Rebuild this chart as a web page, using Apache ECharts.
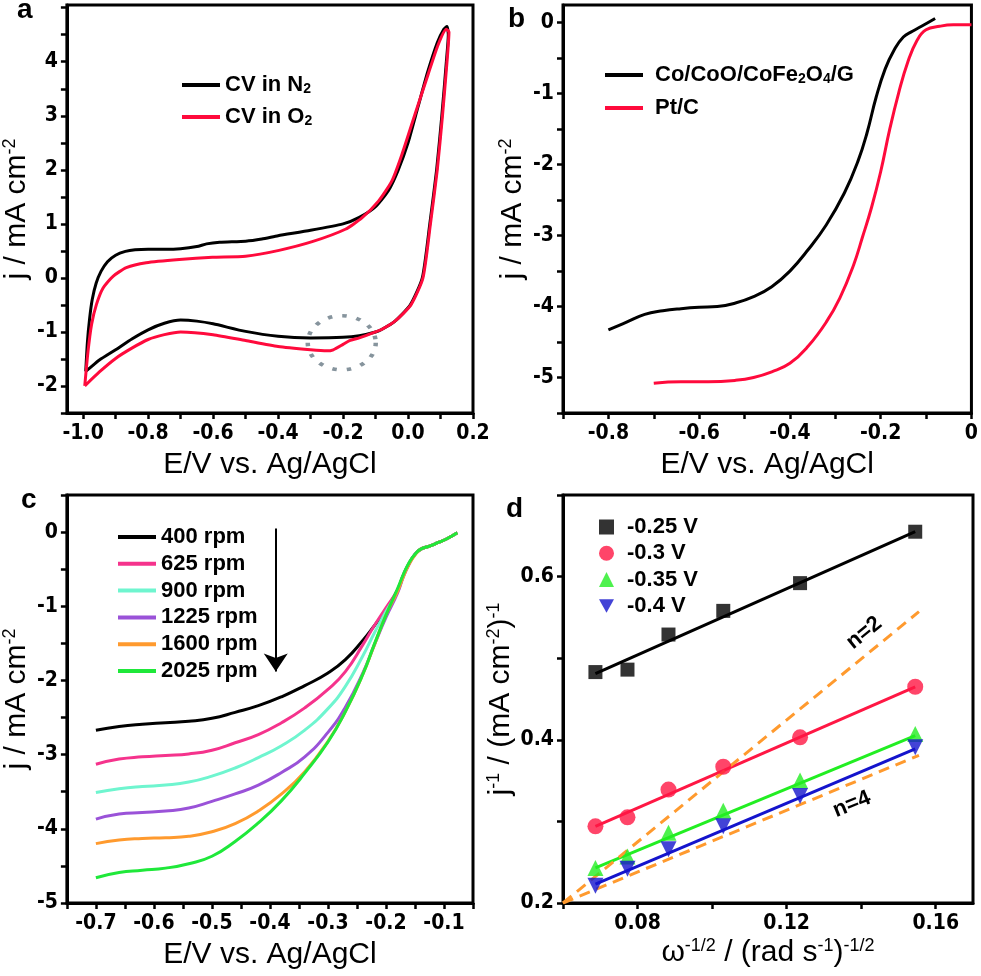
<!DOCTYPE html>
<html>
<head>
<meta charset="utf-8">
<script src="https://cdn.jsdelivr.net/npm/echarts@6/dist/echarts.min.js"></script>
<style>
  html, body { margin: 0; padding: 0; background: #fff; }
  #main { width: 981px; height: 976px; }
</style>
</head>
<body>
<div id="main"></div>
<script>
// ---- panel a: CV loops (E, j) ----
var cvN2 = [[-0.992,-1.73],[-0.987,-1.2],[-0.98,-0.75],[-0.972,-0.4],[-0.96,-0.1],[-0.945,0.12],[-0.925,0.3],[-0.9,0.42],[-0.87,0.49],
  [-0.84,0.52],[-0.8,0.53],[-0.75,0.53],[-0.7,0.54],[-0.65,0.58],[-0.62,0.63],[-0.58,0.66],[-0.5,0.68],[-0.45,0.72],[-0.4,0.78],
  [-0.3,0.88],[-0.2,1.0],[-0.15,1.12],[-0.1,1.32],[-0.06,1.62],[-0.03,2.0],[0.0,2.5],[0.03,3.15],[0.06,3.8],[0.09,4.35],[0.11,4.6],
  [0.12,4.65],[0.124,4.5],[0.118,4.0],[0.104,3.0],[0.088,2.0],[0.067,1.0],[0.044,0.0],[0.007,-0.5],[-0.04,-0.8],[-0.08,-0.95],
  [-0.1,-1.0],[-0.15,-1.07],[-0.2,-1.1],[-0.3,-1.11],[-0.4,-1.08],[-0.5,-0.99],[-0.6,-0.85],[-0.65,-0.8],[-0.7,-0.78],[-0.75,-0.84],
  [-0.8,-0.96],[-0.85,-1.13],[-0.9,-1.33],[-0.95,-1.52],[-0.98,-1.67],[-0.992,-1.73]];
var cvO2 = [[-0.995,-2.0],[-0.985,-1.36],[-0.974,-0.86],[-0.959,-0.49],[-0.939,-0.19],[-0.908,0.03],[-0.867,0.19],[-0.806,0.28],
  [-0.704,0.34],[-0.602,0.38],[-0.5,0.4],[-0.397,0.51],[-0.295,0.67],[-0.193,0.9],[-0.142,1.11],[-0.091,1.42],[-0.05,1.79],
  [-0.019,2.28],[0.021,3.02],[0.062,3.77],[0.093,4.32],[0.118,4.6],[0.126,4.55],[0.12,4.0],[0.106,3.0],[0.09,2.0],[0.069,1.0],
  [0.046,0.0],[0.009,-0.5],[-0.04,-0.8],[-0.08,-0.95],[-0.1,-1.0],[-0.15,-1.11],[-0.18,-1.16],[-0.2,-1.23],[-0.23,-1.33],
  [-0.25,-1.35],[-0.3,-1.33],[-0.4,-1.27],[-0.5,-1.16],[-0.6,-1.05],[-0.7,-1.0],[-0.75,-1.05],[-0.8,-1.14],[-0.85,-1.3],
  [-0.9,-1.49],[-0.95,-1.74],[-0.995,-2.0]];
var circleMark = [[-0.204, -1.2]];

// ---- panel b: LSV ----
var lsvCat = [[-0.8,-4.33],[-0.76,-4.22],[-0.72,-4.11],[-0.68,-4.06],[-0.64,-4.03],[-0.6,-4.01],[-0.56,-4.0],[-0.52,-3.95],
  [-0.48,-3.86],[-0.44,-3.72],[-0.4,-3.5],[-0.36,-3.2],[-0.32,-2.85],[-0.28,-2.4],[-0.25,-1.95],[-0.23,-1.55],[-0.21,-1.05],
  [-0.19,-0.65],[-0.17,-0.38],[-0.15,-0.2],[-0.13,-0.12],[-0.11,-0.05],[-0.08,0.06]];
var lsvPt = [[-0.7,-5.08],[-0.64,-5.06],[-0.58,-5.06],[-0.52,-5.04],[-0.48,-5.0],[-0.44,-4.92],[-0.4,-4.8],[-0.36,-4.56],
  [-0.32,-4.22],[-0.29,-3.88],[-0.26,-3.42],[-0.24,-3.02],[-0.22,-2.6],[-0.2,-2.1],[-0.18,-1.5],[-0.16,-0.98],[-0.14,-0.55],
  [-0.12,-0.25],[-0.1,-0.1],[-0.07,-0.05],[-0.04,-0.03],[0,-0.03]];

// ---- panel c: RDE curves at several rotation rates ----
var rpm400 = [[-0.7,-2.67],[-0.66,-2.62],[-0.62,-2.59],[-0.58,-2.57],[-0.54,-2.55],[-0.5,-2.51],[-0.46,-2.43],[-0.42,-2.34],
  [-0.38,-2.22],[-0.34,-2.07],[-0.3,-1.9],[-0.27,-1.72],[-0.24,-1.46],[-0.22,-1.26],[-0.2,-1.05],[-0.18,-0.78],[-0.17,-0.58],
  [-0.16,-0.42],[-0.15,-0.3],[-0.14,-0.23],[-0.125,-0.19],[-0.11,-0.14],[-0.095,-0.09],[-0.077,-0.01]];
var rpm625 = [[-0.7,-3.13],[-0.66,-3.06],[-0.62,-3.03],[-0.58,-3.01],[-0.54,-2.99],[-0.5,-2.94],[-0.46,-2.84],[-0.42,-2.73],
  [-0.38,-2.57],[-0.34,-2.37],[-0.3,-2.12],[-0.27,-1.88],[-0.24,-1.52],[-0.22,-1.26],[-0.2,-1.02],[-0.18,-0.78],[-0.17,-0.58],
  [-0.16,-0.42],[-0.15,-0.3],[-0.14,-0.23],[-0.125,-0.19],[-0.11,-0.14],[-0.095,-0.09],[-0.077,-0.01]];
var rpm900 = [[-0.7,-3.51],[-0.66,-3.46],[-0.62,-3.43],[-0.58,-3.41],[-0.54,-3.37],[-0.5,-3.29],[-0.46,-3.18],[-0.42,-3.04],
  [-0.38,-2.88],[-0.34,-2.67],[-0.3,-2.38],[-0.27,-2.08],[-0.24,-1.67],[-0.22,-1.36],[-0.2,-1.07],[-0.18,-0.8],[-0.17,-0.59],
  [-0.16,-0.42],[-0.15,-0.3],[-0.14,-0.23],[-0.125,-0.19],[-0.11,-0.14],[-0.095,-0.09],[-0.077,-0.01]];
var rpm1225 = [[-0.7,-3.87],[-0.66,-3.8],[-0.62,-3.78],[-0.58,-3.76],[-0.54,-3.72],[-0.5,-3.63],[-0.46,-3.53],[-0.42,-3.41],
  [-0.38,-3.24],[-0.34,-3.03],[-0.3,-2.7],[-0.27,-2.36],[-0.24,-1.9],[-0.22,-1.52],[-0.2,-1.15],[-0.18,-0.82],[-0.17,-0.6],
  [-0.16,-0.43],[-0.15,-0.3],[-0.14,-0.23],[-0.125,-0.19],[-0.11,-0.14],[-0.095,-0.09],[-0.077,-0.01]];
var rpm1600 = [[-0.7,-4.2],[-0.66,-4.15],[-0.62,-4.13],[-0.58,-4.12],[-0.54,-4.1],[-0.5,-4.04],[-0.46,-3.93],[-0.42,-3.76],
  [-0.38,-3.53],[-0.34,-3.23],[-0.3,-2.82],[-0.27,-2.42],[-0.24,-1.92],[-0.22,-1.52],[-0.2,-1.12],[-0.18,-0.8],[-0.17,-0.6],
  [-0.16,-0.43],[-0.15,-0.31],[-0.14,-0.23],[-0.125,-0.19],[-0.11,-0.14],[-0.095,-0.09],[-0.077,-0.01]];
var rpm2025 = [[-0.7,-4.66],[-0.66,-4.59],[-0.62,-4.56],[-0.58,-4.53],[-0.54,-4.47],[-0.5,-4.37],[-0.46,-4.17],[-0.42,-3.92],
  [-0.38,-3.62],[-0.34,-3.25],[-0.3,-2.83],[-0.27,-2.42],[-0.24,-1.92],[-0.22,-1.51],[-0.2,-1.12],[-0.18,-0.76],[-0.17,-0.57],
  [-0.16,-0.41],[-0.15,-0.3],[-0.14,-0.23],[-0.125,-0.19],[-0.11,-0.14],[-0.095,-0.09],[-0.077,-0.01]];
var rpmArrow = [[-0.39, 0.05], [-0.39, -1.88]];

// ---- panel d: Koutecky-Levich ----
var klX = [0.0687, 0.0773, 0.0883, 0.1030, 0.1236, 0.1545];
var kl025 = [0.483, 0.486, 0.529, 0.558, 0.592, 0.655];
var kl030 = [0.294, 0.305, 0.339, 0.367, 0.403, 0.465];
var kl035 = [0.243, 0.257, 0.286, 0.313, 0.350, 0.407];
var kl040 = [0.221, 0.242, 0.266, 0.294, 0.331, 0.391];
var fit025 = [[0.0687, 0.481], [0.1545, 0.655]];
var fit030 = [[0.0687, 0.294], [0.1545, 0.465]];
var fit035 = [[0.0687, 0.243], [0.1545, 0.405]];
var fit040 = [[0.0687, 0.223], [0.1545, 0.389]];
var theoN2 = [[0.06, 0.2], [0.1555, 0.557]];
var theoN4 = [[0.06, 0.2], [0.1555, 0.381]];

// ---- ticks / labels ----
var aTicksX = [-1.0,-0.9,-0.8,-0.7,-0.6,-0.5,-0.4,-0.3,-0.2,-0.1,0,0.1,0.2];
var aLabelsX = [-1.0,-0.8,-0.6,-0.4,-0.2,0,0.2];
var aTicksY = [-2.5,-2,-1.5,-1,-0.5,0,0.5,1,1.5,2,2.5,3,3.5,4,4.5,5];
var aLabelsY = [-2,-1,0,1,2,3,4];
var bTicksX = [-0.9,-0.8,-0.7,-0.6,-0.5,-0.4,-0.3,-0.2,-0.1,0];
var bLabelsX = [-0.8,-0.6,-0.4,-0.2,0];
var bTicksY = [-5.5,-5,-4.5,-4,-3.5,-3,-2.5,-2,-1.5,-1,-0.5,0];
var bLabelsY = [-5,-4,-3,-2,-1,0];
var cTicksX = [-0.75,-0.7,-0.65,-0.6,-0.55,-0.5,-0.45,-0.4,-0.35,-0.3,-0.25,-0.2,-0.15,-0.1,-0.05];
var cLabelsX = [-0.7,-0.6,-0.5,-0.4,-0.3,-0.2,-0.1];
var cTicksY = [-5,-4.5,-4,-3.5,-3,-2.5,-2,-1.5,-1,-0.5,0,0.5];
var cLabelsY = [-5,-4,-3,-2,-1,0];
var dTicksX = [0.06,0.08,0.1,0.12,0.14,0.16];
var dLabelsX = [0.08,0.12,0.16];
var dTicksY = [0.2,0.3,0.4,0.5,0.6,0.7];
var dLabelsY = [0.2,0.4,0.6];

var tickFont = "'Liberation Sans Narrow', 'Arial Narrow', 'DejaVu Sans Condensed', sans-serif";
var textFont = "'Liberation Sans', Arial, sans-serif";

var chart = echarts.init(document.getElementById('main'), null, {renderer: 'canvas'});

var grids = [
  {left: 63, top: 5, width: 410, height: 408},
  {left: 563, top: 5, width: 410, height: 408},
  {left: 63, top: 495, width: 410, height: 408},
  {left: 563, top: 495, width: 410, height: 408}
];
grids.forEach(function (g) {
  g.show = true;
  g.borderColor = '#000';
  g.borderWidth = 3;
  g.backgroundColor = 'transparent';
  g.containLabel = false;
});

var nameRich = {
  sup: {fontSize: 18, lineHeight: 18, verticalAlign: 'top', fontFamily: textFont, color: '#000'}
};

function axis(gi, dim, min, max, ticks, labels, fmt, name, gap) {
  return {
    type: 'value', gridIndex: gi, min: min, max: max,
    position: dim === 'x' ? 'bottom' : 'left',
    name: name, nameLocation: 'middle', nameGap: gap,
    nameTextStyle: {fontFamily: textFont, fontSize: 30, lineHeight: 32, color: '#000', rich: nameRich},
    axisLine: {show: true, onZero: false, lineStyle: {color: '#000', width: 3}},
    axisTick: {show: true, length: 6, customValues: ticks, lineStyle: {color: '#000', width: 2.5}},
    axisLabel: {show: true, customValues: labels, formatter: fmt, margin: dim === 'x' ? 10 : 9,
      fontFamily: tickFont, fontWeight: 'bold', fontSize: 21, color: '#000'},
    splitLine: {show: false}
  };
}

function f1(v) { return v.toFixed(1); }
function f2(v) { return v.toFixed(2); }
function fi(v) { return String(Math.round(v)); }
function fb(v) { return Math.abs(v) < 1e-9 ? '0' : v.toFixed(1); }

var xAxes = [
  axis(0, 'x', -1.05, 0.2, aTicksX, aLabelsX, f1, 'E/V vs. Ag/AgCl', 36),
  axis(1, 'x', -0.9, 0, bTicksX, bLabelsX, fb, 'E/V vs. Ag/AgCl', 36),
  axis(2, 'x', -0.75, -0.05, cTicksX, cLabelsX, f1, 'E/V vs. Ag/AgCl', 36),
  axis(3, 'x', 0.06, 0.17, dTicksX, dLabelsX, f2, 'ω{sup|-1/2} / (rad s{sup|-1}){sup|-1/2}', 34)
];
var yAxes = [
  axis(0, 'y', -2.5, 5.05, aTicksY, aLabelsY, fi, 'j / mA cm{sup|-2}', 27),
  axis(1, 'y', -5.5, 0.25, bTicksY, bLabelsY, fi, 'j / mA cm{sup|-2}', 29),
  axis(2, 'y', -5, 0.5, cTicksY, cLabelsY, fi, 'j / mA cm{sup|-2}', 29),
  axis(3, 'y', 0.2, 0.7, dTicksY, dLabelsY, f1, 'j{sup|-1} / (mA cm{sup|-2}){sup|-1}', 38)
];

function curve(name, gi, data, color, smooth) {
  return {
    name: name, type: 'line', xAxisIndex: gi, yAxisIndex: gi, data: data,
    symbol: 'none', showSymbol: false, smooth: smooth, silent: true,
    lineStyle: {color: color, width: 3}, itemStyle: {color: color}
  };
}
function points(name, xs, ys, color, symbol, size) {
  return {
    name: name, type: 'scatter', xAxisIndex: 3, yAxisIndex: 3, silent: true, z: 5,
    data: xs.map(function (x, i) { return [x, ys[i]]; }),
    symbol: symbol, symbolSize: size, itemStyle: {color: color}
  };
}
function dashed(name, data) {
  return {
    name: name, type: 'line', xAxisIndex: 3, yAxisIndex: 3, data: data, symbol: 'none', silent: true, z: 4,
    lineStyle: {color: '#ff9a2e', width: 3, type: [11, 7]}
  };
}

var subFmt = function (n) { return n.replace(/([A-Za-z])(\d)/g, '$1{sub|$2}'); };
var legendText = {
  fontFamily: textFont, fontWeight: 'bold', fontSize: 22, lineHeight: 22, color: '#000',
  rich: {sub: {fontFamily: textFont, fontWeight: 'bold', fontSize: 14, lineHeight: 14, verticalAlign: 'bottom', color: '#000'}}
};
function legend(names, left, top, gap, extra) {
  var l = {
    data: names, left: left, top: top, orient: 'vertical', itemGap: gap, selectedMode: false,
    itemWidth: 38, itemHeight: 4, icon: 'rect', textStyle: legendText, formatter: subFmt
  };
  for (var k in extra) l[k] = extra[k];
  return l;
}

chart.setOption({
  animation: false,
  backgroundColor: '#fff',
  grid: grids,
  xAxis: xAxes,
  yAxis: yAxes,
  legend: [
    legend(['CV in N2', 'CV in O2'], 177, 69, 10, {}),
    legend(['Co/CoO/CoFe2O4/G', 'Pt/C'], 600, 59, 11, {textStyle: Object.assign({}, legendText, {padding: [0, 0, 0, 7]})}),
    legend(['400 rpm', '625 rpm', '900 rpm', '1225 rpm', '1600 rpm', '2025 rpm'], 113, 521, 4.8, {}),
    legend(['-0.25 V', '-0.3 V', '-0.35 V', '-0.4 V'], 594, 511, 4.3,
      {icon: null, itemWidth: 15, itemHeight: 15, textStyle: Object.assign({}, legendText, {padding: [0, 0, 0, 8]})})
  ],
  series: [
    curve('CV in N2', 0, cvN2, '#000', 0.2),
    curve('CV in O2', 0, cvO2, '#ff0a3c', 0.2),
    {
      type: 'scatter', xAxisIndex: 0, yAxisIndex: 0, data: circleMark, silent: true,
      symbol: 'circle', symbolSize: [68, 54],
      itemStyle: {color: 'rgba(0,0,0,0)', borderColor: '#687985', borderWidth: 4, borderType: [4, 9]}
    },
    curve('Co/CoO/CoFe2O4/G', 1, lsvCat, '#000', 0.45),
    curve('Pt/C', 1, lsvPt, '#ff0a3c', 0.45),
    curve('400 rpm', 2, rpm400, '#000', 0.5),
    curve('625 rpm', 2, rpm625, '#f5338c', 0.5),
    curve('900 rpm', 2, rpm900, '#6ff5cf', 0.5),
    curve('1225 rpm', 2, rpm1225, '#9a52d8', 0.5),
    curve('1600 rpm', 2, rpm1600, '#ff9a2e', 0.5),
    curve('2025 rpm', 2, rpm2025, '#1fe83a', 0.5),
    {
      type: 'lines', coordinateSystem: 'cartesian2d', xAxisIndex: 2, yAxisIndex: 2, silent: true,
      data: [{coords: rpmArrow}], symbol: ['none', 'arrow'], symbolSize: [9, 18],
      lineStyle: {color: '#000', width: 2, opacity: 1}
    },
    dashed('n=2', theoN2),
    dashed('n=4', theoN4),
    curve('fit -0.25', 3, fit025, '#000', false),
    curve('fit -0.3', 3, fit030, '#ff1744', false),
    curve('fit -0.35', 3, fit035, '#22ee22', false),
    curve('fit -0.4', 3, fit040, '#1414cc', false),
    points('-0.25 V', klX, kl025, '#000', 'rect', 14),
    points('-0.3 V', klX, kl030, '#ff1744', 'circle', 16),
    points('-0.35 V', klX, kl035, '#22ee22', 'triangle', 16),
    points('-0.4 V', klX, kl040, '#1414cc', 'path://M0,0 L10,0 L5,9 Z', 16)
  ]
});

// panel letters and the n=2 / n=4 notes
function note(text, gi, at, rot) {
  var p = chart.convertToPixel({gridIndex: gi}, at);
  return {
    type: 'text', x: p[0], y: p[1], rotation: rot, z: 10, silent: true,
    style: {text: text, fill: '#000', font: 'bold 22px ' + textFont, align: 'center', verticalAlign: 'middle'}
  };
}
function letter(text, x, y) {
  return {
    type: 'text', x: x, y: y, z: 10, silent: true,
    style: {text: text, fill: '#000', font: 'bold 28px ' + textFont, align: 'left', verticalAlign: 'bottom'}
  };
}
chart.setOption({
  graphic: [
    letter('a', 17, 24),
    letter('b', 508, 33),
    letter('c', 21, 514),
    letter('d', 506, 523),
    note('n=2', 3, [0.1408, 0.531], 0.68),
    note('n=4', 3, [0.1375, 0.321], 0.39)
  ]
});
</script>
</body>
</html>
